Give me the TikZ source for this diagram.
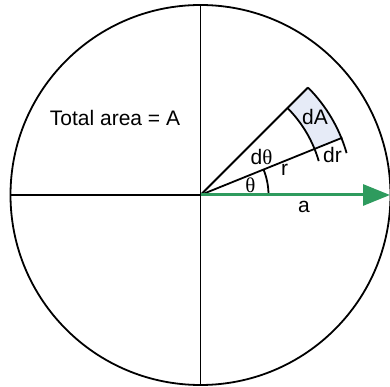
\documentclass[tikz,border=0pt]{standalone}
\usepackage{fontspec}
\setmainfont{Liberation Sans}
\newfontfamily\greekfont{Liberation Serif}
\usetikzlibrary{arrows.meta,positioning,calc}
\definecolor{Rim}{HTML}{000000}
\definecolor{Leaf}{HTML}{2E9B5E}
\definecolor{Haze}{HTML}{E6EBF7}
\tikzset{
  rim/.style={Rim,line width=1.8pt},
  lbl/.style={font=\fontsize{21}{25}\selectfont,inner sep=0pt}
}
\newcommand{\thet}{{\greekfont θ}}
\begin{document}
\begin{tikzpicture}[x=1pt,y=1pt]
        \useasboundingbox (-200.5,-192) rectangle (189.5,195);
        \coordinate (O) at (0,0);
        \coordinate (N) at (90:190);
        \coordinate (S) at (270:190);
        \coordinate (W) at (180:190);
        \coordinate (E) at (189.5,0);
        % element of area
        \fill[Haze] (22:123) arc[start angle=22,end angle=45,radius=123]
          -- (45:152) arc[start angle=45,end angle=22,radius=152] -- cycle;
        \draw[rim] (O) circle[radius=190];
        \draw[rim] (N) -- (S);
        \draw[rim] (W) -- (O);
        \draw[rim] (O) -- (22:153);
        \draw[rim] (O) -- (45:152);
        \foreach \r in {123,152}
          \draw[rim] (16:\r) arc[start angle=16,end angle=45,radius=\r];
        \draw[rim] (68,0) arc[start angle=0,end angle=22,radius=68];
        \draw[Leaf,line width=3pt,-{Triangle[length=27pt,width=21pt]}] (O) -- (E);
        \node[lbl] (total) at (-85.5,77) {Total area = A};
        \node[lbl] (dA) at (114.5,78) {dA};
        \node[lbl] (dth) at (61,38) {d\thet};
        \node[lbl] (th) at (50,10) {\thet};
        \node[lbl] (r) at (84,25) {r};
        \node[lbl] (dr) at (132,40) {dr};
        \node[lbl] (a) at (103.5,-12) {a};
      \end{tikzpicture}
\end{document}
